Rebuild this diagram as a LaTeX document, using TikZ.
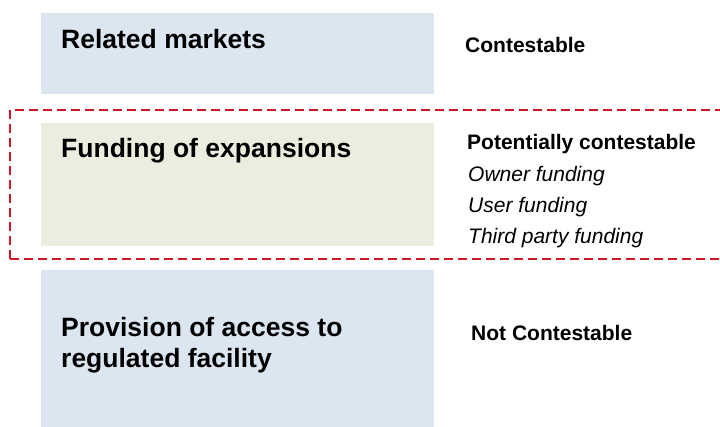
\documentclass[tikz,border=0pt]{standalone}
\usepackage{fontspec}
\setmainfont{Liberation Sans}
\definecolor{paleblue}{RGB}{220,230,241}
\definecolor{paleolive}{RGB}{235,238,223}
\definecolor{dashred}{RGB}{204,24,36}
\begin{document}
\begin{tikzpicture}[x=1pt,y=-1pt,
  panel/.style={draw=none,inner sep=0,outer sep=0,anchor=north west},
  heading/.style={inner sep=0,anchor=base west,font=\bfseries\fontsize{26.5}{30}\selectfont},
  status/.style={inner sep=0,anchor=base west,font=\bfseries\fontsize{21}{25}\selectfont},
  option/.style={inner sep=0,anchor=base west,font=\itshape\fontsize{21}{25}\selectfont},
  zone/.style={draw=dashred,line width=2pt,dash pattern=on 9pt off 5pt}]
\useasboundingbox (0,0) rectangle (720,427);
\clip (0,0) rectangle (720,427);
% three market layers
\node[panel,fill=paleblue,minimum width=393pt,minimum height=81pt] (related) at (41,13) {};
\node[panel,fill=paleolive,minimum width=393pt,minimum height=123pt] (funding) at (41,123) {};
\node[panel,fill=paleblue,minimum width=393pt,minimum height=160pt] (access) at (41,270) {};
% dashed outline around the contestable-in-principle layer
\draw[zone] (10,259) -- (10,110) -- (735,110);
\draw[zone] (10,259) -- (735,259);
% layer titles
\node[heading] (relatedtxt) at (61,49) {Related markets};
\node[heading] (fundingtxt) at (61,158) {Funding of expansions};
\node[heading] (accesstxt1) at (61,337) {Provision of access to};
\node[heading] (accesstxt2) at (61,367) {regulated facility};
% contestability notes
\node[status] (c1) at (465,53) {Contestable};
\node[status] (c2) at (467,150) {Potentially contestable};
\node[option] (o1) at (468,182) {Owner funding};
\node[option] (o2) at (468,213) {User funding};
\node[option] (o3) at (468,244) {Third party funding};
\node[status] (c3) at (471,341) {Not Contestable};
\end{tikzpicture}
\end{document}
